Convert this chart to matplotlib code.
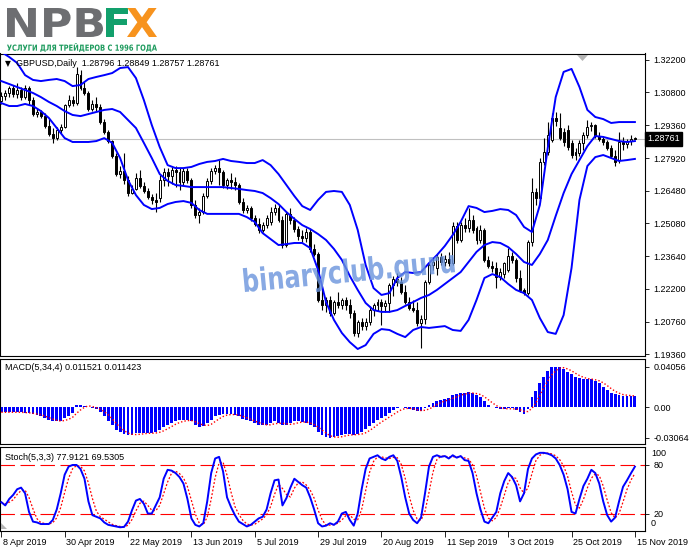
import numpy as np
import pandas as pd
import matplotlib
matplotlib.use('Agg')
import matplotlib.pyplot as plt
import matplotlib.transforms as mtransforms
from matplotlib.textpath import TextPath
from matplotlib.patches import PathPatch, Polygon
from matplotlib.font_manager import FontProperties

# ---------------- data (GBPUSD daily, 8 Apr - 15 Nov 2019) ----------------
date_labels = ['8 Apr 2019', '30 Apr 2019', '22 May 2019', '13 Jun 2019', '5 Jul 2019',
               '29 Jul 2019', '20 Aug 2019', '11 Sep 2019', '3 Oct 2019', '25 Oct 2019',
               '15 Nov 2019']
date_bars = [0, 16, 32, 48, 64, 80, 96, 112, 128, 144, 160]

c_open = [
    1.3041, 1.3063, 1.3076, 1.3098, 1.3072, 1.3089, 1.3058, 1.3098, 1.3045, 1.2984,
    1.2993, 1.2975, 1.2932, 1.2897, 1.2879, 1.2914, 1.2927, 1.3023, 1.3045, 1.3032,
    1.3154, 1.3098, 1.3076, 1.3006, 1.3028, 1.3015, 1.2949, 1.2906, 1.2866, 1.2801,
    1.2722, 1.2735, 1.2696, 1.2639, 1.2657, 1.2705, 1.2670, 1.2648, 1.2622, 1.2609,
    1.2617, 1.2696, 1.2731, 1.2713, 1.2740, 1.2731, 1.2687, 1.2735, 1.2696, 1.2587,
    1.2543, 1.2556, 1.2626, 1.2692, 1.2735, 1.2748, 1.2731, 1.2674, 1.2696, 1.2687,
    1.2674, 1.2600, 1.2565, 1.2574, 1.2530, 1.2504, 1.2478, 1.2499, 1.2513, 1.2556,
    1.2574, 1.2521, 1.2412, 1.2548, 1.2521, 1.2482, 1.2451, 1.2443, 1.2469, 1.2395,
    1.2373, 1.2172, 1.2150, 1.2172, 1.2115, 1.2163, 1.2150, 1.2172, 1.2150, 1.2115,
    1.2028, 1.2076, 1.2058, 1.2076, 1.2128, 1.2150, 1.2163, 1.2146, 1.2159, 1.2237,
    1.2264, 1.2251, 1.2207, 1.2163, 1.2137, 1.2128, 1.2072, 1.2089, 1.2251, 1.2325,
    1.2312, 1.2360, 1.2338, 1.2351, 1.2333, 1.2495, 1.2434, 1.2499, 1.2486, 1.2521,
    1.2486, 1.2434, 1.2478, 1.2347, 1.2320, 1.2312, 1.2272, 1.2285, 1.2303, 1.2364,
    1.2347, 1.2268, 1.2216, 1.2202, 1.2425, 1.2644, 1.2617, 1.2775, 1.2818, 1.2871,
    1.2967, 1.2923, 1.2906, 1.2914, 1.2858, 1.2805, 1.2814, 1.2858, 1.2892, 1.2932,
    1.2936, 1.2888, 1.2875, 1.2862, 1.2836, 1.2801, 1.2783, 1.2862, 1.2853, 1.2866,
    1.28796]
c_high = [
    1.3080, 1.3089, 1.3106, 1.3111, 1.3120, 1.3102, 1.3111, 1.3106, 1.3058, 1.3010,
    1.3002, 1.2989, 1.2962, 1.2923, 1.2927, 1.2941, 1.3028, 1.3067, 1.3063, 1.3189,
    1.3176, 1.3124, 1.3085, 1.3045, 1.3058, 1.3028, 1.2962, 1.2914, 1.2871, 1.2814,
    1.2757, 1.2814, 1.2713, 1.2674, 1.2727, 1.2740, 1.2687, 1.2661, 1.2635, 1.2639,
    1.2718, 1.2748, 1.2748, 1.2753, 1.2757, 1.2748, 1.2748, 1.2748, 1.2705, 1.2609,
    1.2574, 1.2639, 1.2705, 1.2748, 1.2761, 1.2783, 1.2740, 1.2705, 1.2727, 1.2709,
    1.2683, 1.2617, 1.2587, 1.2582, 1.2543, 1.2530, 1.2513, 1.2543, 1.2578, 1.2591,
    1.2587, 1.2539, 1.2561, 1.2574, 1.2534, 1.2495, 1.2478, 1.2486, 1.2482, 1.2416,
    1.2382, 1.2233, 1.2185, 1.2189, 1.2172, 1.2207, 1.2181, 1.2185, 1.2176, 1.2128,
    1.2085, 1.2093, 1.2093, 1.2146, 1.2159, 1.2176, 1.2176, 1.2172, 1.2246, 1.2277,
    1.2290, 1.2272, 1.2237, 1.2185, 1.2172, 1.2163, 1.2106, 1.2259, 1.2338, 1.2355,
    1.2373, 1.2377, 1.2368, 1.2382, 1.2513, 1.2513, 1.2513, 1.2530, 1.2574, 1.2543,
    1.2495, 1.2499, 1.2486, 1.2364, 1.2342, 1.2338, 1.2312, 1.2338, 1.2399, 1.2382,
    1.2355, 1.2303, 1.2224, 1.2434, 1.2705, 1.2661, 1.2792, 1.2879, 1.2949, 1.2989,
    1.2993, 1.2989, 1.2923, 1.2936, 1.2871, 1.2836, 1.2871, 1.2906, 1.2958, 1.2949,
    1.2941, 1.2906, 1.2888, 1.2871, 1.2849, 1.2827, 1.2906, 1.2884, 1.2875, 1.2892,
    1.28849]
c_low = [
    1.3028, 1.3045, 1.3058, 1.3058, 1.3054, 1.3045, 1.3050, 1.3023, 1.2975, 1.2971,
    1.2967, 1.2923, 1.2888, 1.2858, 1.2871, 1.2901, 1.2923, 1.3015, 1.3019, 1.3023,
    1.3089, 1.3067, 1.2997, 1.2997, 1.2997, 1.2941, 1.2897, 1.2858, 1.2792, 1.2713,
    1.2705, 1.2679, 1.2626, 1.2635, 1.2652, 1.2661, 1.2639, 1.2613, 1.2591, 1.2556,
    1.2600, 1.2670, 1.2670, 1.2679, 1.2665, 1.2652, 1.2674, 1.2683, 1.2574, 1.2530,
    1.2508, 1.2548, 1.2617, 1.2679, 1.2722, 1.2674, 1.2661, 1.2657, 1.2657, 1.2652,
    1.2591, 1.2552, 1.2552, 1.2517, 1.2495, 1.2464, 1.2469, 1.2486, 1.2499, 1.2543,
    1.2513, 1.2399, 1.2403, 1.2504, 1.2469, 1.2434, 1.2425, 1.2425, 1.2382, 1.2364,
    1.2163, 1.2128, 1.2120, 1.2102, 1.2106, 1.2137, 1.2133, 1.2128, 1.2093, 1.2015,
    1.2010, 1.2041, 1.2041, 1.2063, 1.2102, 1.2124, 1.2063, 1.2120, 1.2120, 1.2189,
    1.2233, 1.2198, 1.2154, 1.2128, 1.2120, 1.2058, 1.1962, 1.2067, 1.2242, 1.2303,
    1.2281, 1.2325, 1.2320, 1.2320, 1.2325, 1.2421, 1.2425, 1.2469, 1.2469, 1.2464,
    1.2416, 1.2421, 1.2338, 1.2312, 1.2294, 1.2224, 1.2259, 1.2268, 1.2294, 1.2333,
    1.2251, 1.2207, 1.2194, 1.2194, 1.2408, 1.2587, 1.2600, 1.2761, 1.2805, 1.2862,
    1.2932, 1.2871, 1.2844, 1.2827, 1.2792, 1.2783, 1.2801, 1.2827, 1.2879, 1.2910,
    1.2879, 1.2866, 1.2849, 1.2827, 1.2792, 1.2757, 1.2770, 1.2827, 1.2836, 1.2849,
    1.28757]
c_close = [
    1.3063, 1.3076, 1.3098, 1.3072, 1.3089, 1.3058, 1.3098, 1.3045, 1.2984, 1.2993,
    1.2975, 1.2932, 1.2897, 1.2879, 1.2914, 1.2927, 1.3023, 1.3045, 1.3032, 1.3159,
    1.3098, 1.3076, 1.3006, 1.3028, 1.3015, 1.2949, 1.2906, 1.2866, 1.2801, 1.2722,
    1.2735, 1.2696, 1.2639, 1.2657, 1.2705, 1.2670, 1.2648, 1.2622, 1.2609, 1.2600,
    1.2696, 1.2731, 1.2713, 1.2740, 1.2731, 1.2687, 1.2735, 1.2696, 1.2587, 1.2543,
    1.2556, 1.2626, 1.2692, 1.2735, 1.2748, 1.2731, 1.2674, 1.2696, 1.2687, 1.2674,
    1.2600, 1.2565, 1.2574, 1.2530, 1.2504, 1.2478, 1.2499, 1.2530, 1.2556, 1.2574,
    1.2521, 1.2412, 1.2548, 1.2521, 1.2482, 1.2451, 1.2443, 1.2469, 1.2395, 1.2373,
    1.2172, 1.2150, 1.2172, 1.2115, 1.2163, 1.2150, 1.2172, 1.2150, 1.2115, 1.2028,
    1.2076, 1.2058, 1.2076, 1.2128, 1.2150, 1.2163, 1.2146, 1.2159, 1.2237, 1.2264,
    1.2251, 1.2207, 1.2163, 1.2137, 1.2128, 1.2072, 1.2089, 1.2251, 1.2325, 1.2338,
    1.2360, 1.2338, 1.2351, 1.2333, 1.2495, 1.2434, 1.2499, 1.2486, 1.2521, 1.2478,
    1.2434, 1.2478, 1.2347, 1.2320, 1.2312, 1.2272, 1.2294, 1.2333, 1.2364, 1.2347,
    1.2268, 1.2216, 1.2202, 1.2425, 1.2644, 1.2617, 1.2775, 1.2818, 1.2892, 1.2967,
    1.2954, 1.2879, 1.2862, 1.2840, 1.2805, 1.2818, 1.2858, 1.2892, 1.2927, 1.2936,
    1.2888, 1.2875, 1.2862, 1.2836, 1.2801, 1.2775, 1.2862, 1.2853, 1.2866, 1.2875,
    1.28761]

# Bollinger bands read every second bar
band_x = list(range(0, 161, 2))
bb_upper = [
    1.3255, 1.3233, 1.3207, 1.3154, 1.3133, 1.3128, 1.3133, 1.3137, 1.3128, 1.3106,
    1.3111, 1.3137, 1.3146, 1.3154, 1.3163, 1.3185, 1.3189, 1.3141, 1.3045, 1.2936,
    1.2840, 1.2761, 1.2748, 1.2748, 1.2753, 1.2766, 1.2775, 1.2779, 1.2788, 1.2779,
    1.2775, 1.2770, 1.2770, 1.2783, 1.2761, 1.2722, 1.2674, 1.2626, 1.2582, 1.2565,
    1.2609, 1.2644, 1.2648, 1.2644, 1.2587, 1.2478, 1.2325, 1.2224, 1.2194, 1.2202,
    1.2268, 1.2294, 1.2290, 1.2294, 1.2333, 1.2368, 1.2408, 1.2456, 1.2513, 1.2582,
    1.2574, 1.2556, 1.2561, 1.2569, 1.2565, 1.2543, 1.2491, 1.2469, 1.2587, 1.2836,
    1.3058, 1.3168, 1.3181, 1.3102, 1.3002, 1.2971, 1.2962, 1.2945, 1.2949, 1.2949,
    1.2949]
bb_middle = [
    1.3128, 1.3115, 1.3102, 1.3089, 1.3076, 1.3058, 1.3037, 1.3019, 1.2997, 1.2980,
    1.2975, 1.2984, 1.2993, 1.3002, 1.3006, 1.2993, 1.2958, 1.2923, 1.2858, 1.2792,
    1.2722, 1.2692, 1.2674, 1.2670, 1.2665, 1.2665, 1.2665, 1.2665, 1.2665, 1.2661,
    1.2657, 1.2652, 1.2648, 1.2639, 1.2617, 1.2591, 1.2556, 1.2526, 1.2499, 1.2482,
    1.2460, 1.2434, 1.2395, 1.2347, 1.2277, 1.2216, 1.2159, 1.2128, 1.2120, 1.2120,
    1.2128, 1.2146, 1.2163, 1.2181, 1.2194, 1.2216, 1.2242, 1.2268, 1.2294, 1.2338,
    1.2382, 1.2412, 1.2425, 1.2421, 1.2403, 1.2373, 1.2338, 1.2325, 1.2373, 1.2434,
    1.2539, 1.2639, 1.2722, 1.2783, 1.2844, 1.2888, 1.2884, 1.2875, 1.2866, 1.2862,
    1.2866]
bb_lower = [
    1.3032, 1.3019, 1.3019, 1.3028, 1.3019, 1.2997, 1.2967, 1.2923, 1.2879, 1.2862,
    1.2862, 1.2862, 1.2866, 1.2879, 1.2858, 1.2792, 1.2696, 1.2630, 1.2587, 1.2569,
    1.2574, 1.2591, 1.2600, 1.2604, 1.2596, 1.2565, 1.2548, 1.2548, 1.2548, 1.2548,
    1.2548, 1.2534, 1.2513, 1.2464, 1.2438, 1.2412, 1.2416, 1.2421, 1.2421, 1.2399,
    1.2303, 1.2163, 1.2085, 1.2028, 1.1988, 1.1958, 1.1975, 1.2024, 1.2045, 1.2041,
    1.2024, 1.2010, 1.2041, 1.2054, 1.2050, 1.2054, 1.2058, 1.2041, 1.2037, 1.2085,
    1.2172, 1.2268, 1.2285, 1.2272, 1.2242, 1.2216, 1.2202, 1.2172, 1.2093, 1.2032,
    1.2024, 1.2106, 1.2312, 1.2609, 1.2757, 1.2796, 1.2805, 1.2792, 1.2779, 1.2783,
    1.2788]

macd_main = [
    -0.005, -0.005, -0.005, -0.005, -0.005, -0.005, -0.006, -0.006, -0.007, -0.008,
    -0.009, -0.011, -0.013, -0.014, -0.014, -0.014, -0.011, -0.009, -0.006, 0.002,
    0.0023, 0.0017, 0.000, -0.001, -0.002, -0.005, -0.009, -0.014, -0.018, -0.023,
    -0.025, -0.027, -0.028, -0.028, -0.026, -0.026, -0.026, -0.026, -0.026, -0.025,
    -0.023, -0.020, -0.018, -0.016, -0.014, -0.013, -0.013, -0.013, -0.014, -0.018,
    -0.020, -0.019, -0.016, -0.013, -0.009, -0.008, -0.007, -0.007, -0.007, -0.008,
    -0.009, -0.012, -0.013, -0.014, -0.016, -0.018, -0.018, -0.018, -0.016, -0.014,
    -0.016, -0.018, -0.018, -0.016, -0.014, -0.014, -0.015, -0.016, -0.018, -0.020,
    -0.025, -0.028, -0.030, -0.0306, -0.030, -0.029, -0.028, -0.027, -0.027, -0.028,
    -0.027, -0.025, -0.022, -0.019, -0.016, -0.013, -0.011, -0.009, -0.006, -0.003,
    -0.001, 0.000, -0.001, -0.002, -0.003, -0.004, -0.004, -0.001, 0.002, 0.004,
    0.006, 0.007, 0.008, 0.009, 0.012, 0.013, 0.014, 0.014, 0.015, 0.014,
    0.012, 0.010, 0.006, 0.002, 0.000, -0.001, -0.002, -0.002, -0.001, -0.001,
    -0.003, -0.005, -0.007, -0.002, 0.010, 0.016, 0.024, 0.030, 0.036, 0.040,
    0.04056, 0.040, 0.038, 0.035, 0.033, 0.030, 0.029, 0.028, 0.028, 0.028,
    0.026, 0.024, 0.020, 0.017, 0.014, 0.013, 0.0125, 0.0115, 0.0114, 0.0113,
    0.011521]

stoch_main = [
    34, 30, 38, 43, 50, 52, 45, 22, 10, 9,
    7, 7, 7, 12, 25, 45, 68, 78, 80, 80,
    75, 63, 35, 18, 16, 14, 9, 6, 5, 4,
    3, 3.5, 10, 24, 36, 38, 32, 20, 20, 30,
    40, 63, 74, 73, 70, 65, 57, 38, 14, 6,
    4, 8, 35, 70, 88, 90, 72, 40, 28, 18,
    10, 7, 4, 6, 10, 14, 16, 25, 45, 61,
    62, 30, 39, 52, 63, 59, 55, 52, 40, 25,
    8, 4, 5, 8, 6, 10, 20, 22, 12, 5,
    20, 50, 75, 88, 90, 92, 88, 86, 90, 92,
    85, 65, 40, 20, 12, 8, 15, 45, 78, 90,
    92, 90, 91, 88, 92, 89, 91, 86, 85, 70,
    45, 25, 10, 8, 15, 22, 45, 60, 70, 65,
    55, 35, 45, 75, 88, 93, 95, 95, 94, 92,
    88, 80, 68, 50, 22, 20, 38, 54, 63, 74,
    70, 57, 35, 18, 10, 15, 35, 53, 61, 69.7,
    77.91]

price_ticks = [1.32200, 1.30800, 1.29360, 1.27920, 1.26480, 1.25080,
               1.23640, 1.22200, 1.20760, 1.19360]
macd_ticks = [0.04056, 0.0, -0.03064]
macd_tick_labels = ['0.04056', '0.00', '-0.03064']
header_text = 'GBPUSD,Daily  1.28796 1.28849 1.28757 1.28761'
macd_text = 'MACD(5,34,4) 0.011521 0.011423'
stoch_text = 'Stoch(5,3,3) 77.9121 69.5305'
logo_tagline = 'УСЛУГИ ДЛЯ ТРЕЙДЕРОВ С 1996 ГОДА'
watermark = 'binaryclub.guru'

# ---------------- figure ----------------
W, H = 691, 549
plt.rcParams['font.family'] = ['Liberation Sans', 'DejaVu Sans']
plt.rcParams['font.size'] = 6.5
fig = plt.figure(figsize=(W / 100, H / 100), dpi=100)
fig.patch.set_facecolor('white')

PLOT_RIGHT = 645


def panel(top, bottom):
    a = fig.add_axes([0, 1 - bottom / H, PLOT_RIGHT / W, (bottom - top) / H])
    a.set_xlim(-0.33, 162.55)
    for s in a.spines.values():
        s.set_color('black')
        s.set_linewidth(0.8)
    a.set_xticks([])
    a.yaxis.tick_right()
    a.tick_params(axis='y', length=3, width=0.6, pad=3, labelsize=6.5, colors='black')
    return a


x = np.arange(len(c_close))
o, hi_, lo_, c = (np.array(v) for v in (c_open, c_high, c_low, c_close))

# main price panel
ax = panel(53.5, 355.5)
ax.set_ylim(1.322 - (355.5 - 60) / 2290, 1.322 + (60 - 53.5) / 2290)
ax.axhline(c[-1], color='#c0c0c0', lw=0.8, zorder=1)
ax.vlines(x, lo_, hi_, color='black', lw=0.8, zorder=2)
body_lo = np.minimum(o, c)
body_h = np.maximum(np.abs(c - o), 0.00005)
up = c >= o
ax.bar(x[up], body_h[up], bottom=body_lo[up], width=0.5, facecolor='white',
       edgecolor='black', linewidth=0.7, zorder=3)
ax.bar(x[~up], body_h[~up], bottom=body_lo[~up], width=0.5, facecolor='black',
       edgecolor='black', linewidth=0.7, zorder=3)
for band in (bb_upper, bb_middle, bb_lower):
    ax.plot(band_x, band, color='#0000ff', lw=1.4, zorder=4)
ax.set_yticks(price_ticks)
ax.set_yticklabels(['%.5f' % v for v in price_ticks])
trans = mtransforms.blended_transform_factory(ax.transAxes, ax.transData)
ax.text(1.004, c[-1], '%.5f' % c[-1], transform=trans, ha='left', va='center',
        color='white', fontsize=6.5, clip_on=False, zorder=6,
        bbox=dict(boxstyle='square,pad=0.25', fc='black', ec='black'))
ax.text(5 / PLOT_RIGHT, 1 - 10.5 / 302, '▼', transform=ax.transAxes, ha='left', va='center',
        fontsize=5.5, family='DejaVu Sans', color='black', zorder=6)
ax.text(16 / PLOT_RIGHT, 1 - 10.5 / 302, header_text, transform=ax.transAxes, ha='left',
        va='center', fontsize=6.5, color='black', zorder=6)

# MACD panel
axm = panel(358.5, 444)
axm.set_ylim(-(444 - 407.3) * 0.001, (407.3 - 358.5) * 0.001)
m = np.array(macd_main)
m_sig = pd.Series(m).rolling(4, min_periods=1).mean()
axm.bar(x, m, width=0.72, color='#0000ff', lw=0, zorder=2)
axm.plot(x, m_sig, color='red', lw=1.0, ls=(0, (1, 1.5)), zorder=3)
axm.set_yticks(macd_ticks)
axm.set_yticklabels(macd_tick_labels)
axm.text(5 / PLOT_RIGHT, 1 - 9 / 85.5, macd_text, transform=axm.transAxes, ha='left',
         va='center', fontsize=6.5, color='black')

# Stochastic panel
axs = panel(447, 531)
axs.set_ylim(-1.6, 102.2)
st = np.array(stoch_main)
st_sig = pd.Series(st).rolling(3, min_periods=1).mean()
for lvl in (80, 20):
    axs.axhline(lvl, color='red', lw=0.8, ls=(0, (13, 5)), zorder=1)
axs.plot(x, st, color='#0000ff', lw=1.4, zorder=3)
axs.plot(x, st_sig, color='red', lw=0.9, ls=(0, (1.5, 1.5)), zorder=2)
axs.set_yticks([80, 20])
axs.set_yticklabels(['80', '20'])
for val, ypx in ((100, 454), (0, 524)):
    axs.text(1 + 6 / PLOT_RIGHT, (531 - ypx) / 84, str(val), transform=axs.transAxes,
             ha='left', va='center', fontsize=6.5, color='black')
axs.text(5 / PLOT_RIGHT, 1 - 10 / 84, stoch_text, transform=axs.transAxes, ha='left',
         va='center', fontsize=6.5, color='black')
axs.set_xticks(date_bars)
axs.set_xticklabels([])
axs.tick_params(axis='x', length=4, width=0.6, direction='out', colors='black')
dtrans = mtransforms.blended_transform_factory(axs.transData, axs.transAxes)
for b, lab in zip(date_bars, date_labels):
    axs.text(b + 0.45, -11.5 / 84, lab, transform=dtrans, ha='left', va='center',
             fontsize=6.5, color='black', clip_on=False)

# overlay in pixel coordinates: logo, watermark, markers
ov = fig.add_axes([0, 0, 1, 1], zorder=10)
ov.set_xlim(0, W)
ov.set_ylim(H, 0)
ov.axis('off')


def fit_text(s, x0, x1, y_top, y_bot, color, weight='bold'):
    tp = TextPath((0, 0), s, size=10, prop=FontProperties(family='DejaVu Sans', weight=weight))
    ext = tp.get_extents()
    sx = (x1 - x0) / ext.width
    sy = (y_bot - y_top) / ext.height
    tr = (mtransforms.Affine2D().translate(-ext.x0, -ext.y1).scale(sx, -sy)
          .translate(x0, y_top) + ov.transData)
    ov.add_patch(PathPatch(tp, facecolor=color, edgecolor='none', transform=tr))


fit_text('NPB', 7, 103, 8, 37, '#6d6e71')
fit_text('F', 106, 128, 8, 37, '#12a06c')
fit_text('X', 127, 157, 8, 37, '#f7931e')
fit_text(logo_tagline, 7, 157, 43, 52, '#1e9b5e')

wm = TextPath((0, 0), watermark, size=10, prop=FontProperties(family='DejaVu Sans', weight='bold'))
wext = wm.get_extents()
wtr = (mtransforms.Affine2D().translate(-wext.x0, 0).scale(211 / wext.width, -3.15)
       .rotate_deg(-5.4).translate(245, 292) + ov.transData)
ov.add_patch(PathPatch(wm, facecolor='#6a94dc', edgecolor='none', alpha=0.8, transform=wtr))

ov.add_patch(Polygon([(577, 55), (588, 55), (582.5, 61)], closed=True, fc='#b4b4b4', ec='none'))
ov.add_patch(Polygon([(1, 529), (7, 529), (1, 523)], closed=True, fc='#b4b4b4', ec='none'))

fig.savefig('out.png', dpi=100, facecolor='white')
